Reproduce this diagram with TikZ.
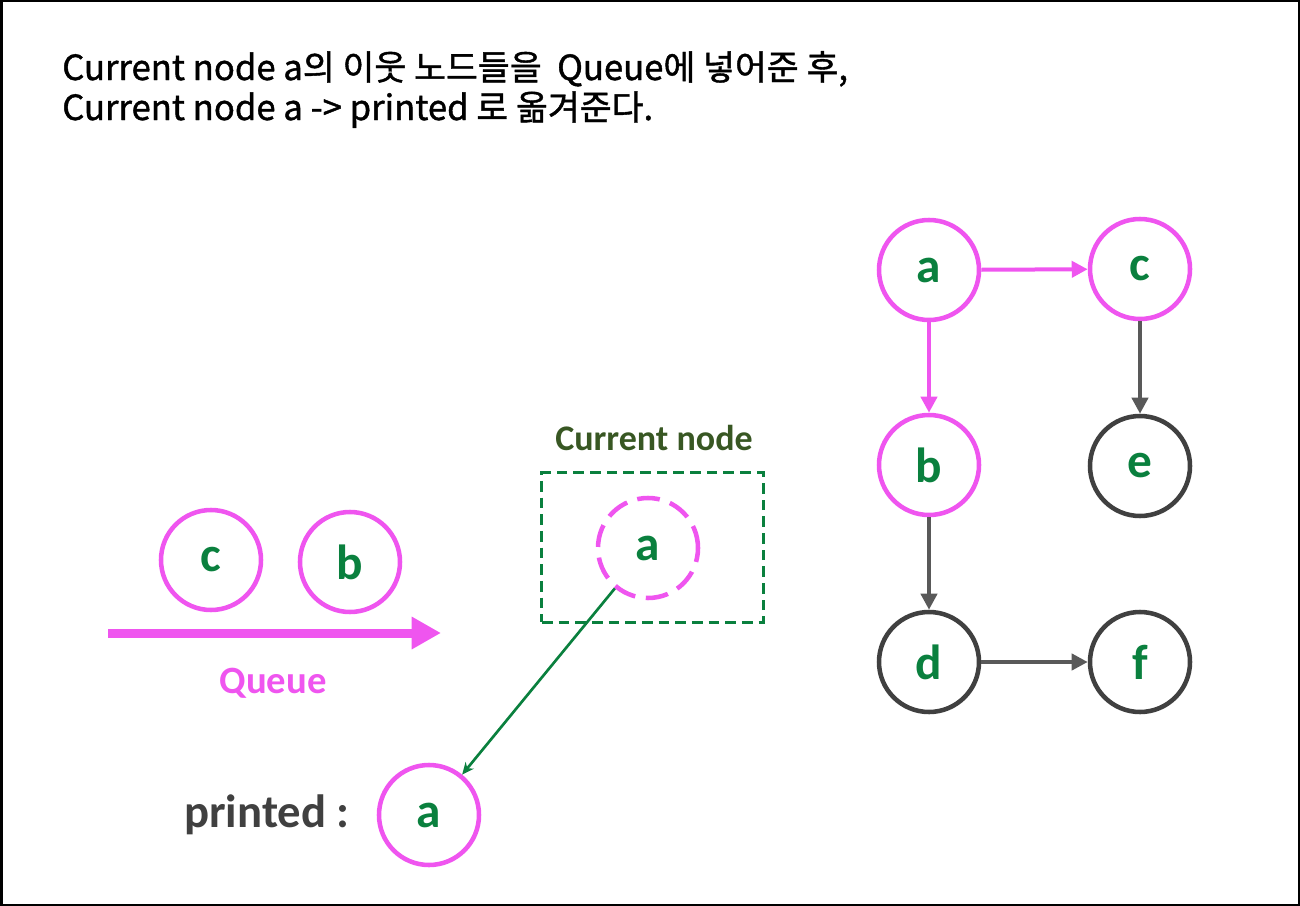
\documentclass[tikz,border=0pt]{standalone}
\usepackage{fontspec}
\setmainfont{Carlito}
\newfontfamily\krfont[FakeBold=1.2]{Noto Sans CJK KR}
\usetikzlibrary{arrows.meta}
\definecolor{pinkc}{RGB}{239,85,239}
\definecolor{lblgreen}{RGB}{10,128,62}
\definecolor{curgreen}{RGB}{56,87,35}
\definecolor{nodegray}{RGB}{64,64,64}
\definecolor{edgegray}{RGB}{89,89,89}
\begin{document}
\begin{tikzpicture}[x=0.75pt,y=-0.75pt,
  vtx/.style={circle, draw=pinkc, line width=3.4pt, minimum size=75pt, inner sep=0pt,
    font=\fontsize{37}{40}\selectfont\bfseries, text=lblgreen},
  grayvtx/.style={vtx, draw=nodegray},
  pinkedge/.style={draw=pinkc, line width=3pt, -{Triangle[length=12pt,width=12pt]}},
  grayedge/.style={draw=edgegray, line width=3pt, -{Triangle[length=12pt,width=12pt]}},
  title/.style={anchor=base west, inner sep=0pt, font=\krfont\fontsize{26}{28}\selectfont, text=black},
  lbl/.style={inner sep=0pt, font=\bfseries}
]
\useasboundingbox (0,0) rectangle (1300,906);
\draw[line width=1.5pt, black] (1.5,1.5) rectangle (1298.5,904.5);

% title
\node[title] (t1) at (62,80) {Current node a의 이웃 노드들을~~Queue에 넣어준 후,};
\node[title] (t2) at (62,120) {Current node a -> printed 로 옮겨준다.};

% graph
\node[vtx] (ga) at (929,270) {a};
\node[vtx] (gc) at (1140,269) {c};
\node[vtx] (gb) at (929,465) {b};
\node[grayvtx] (ge) at (1140,466) {e};
\node[grayvtx] (gd) at (929,662) {d};
\node[grayvtx] (gf) at (1140,662) {f};
\draw[pinkedge] (ga) -- (gc);
\draw[pinkedge] (ga) -- (gb);
\draw[grayedge] (gc) -- (ge);
\draw[grayedge] (gb) -- (gd);
\draw[grayedge] (gd) -- (gf);

% queue
\node[vtx] (qc) at (211,560) {c};
\node[vtx] (qb) at (350,562) {b};
\coordinate (qs) at (108,633);
\coordinate (qe) at (441,633);
\draw[draw=pinkc, line width=6.75pt, -{Triangle[length=22pt,width=23pt]}] (qs) -- (qe);
\node[lbl, text=pinkc, font=\fontsize{29}{32}\selectfont\bfseries] (ql) at (273,683) {Queue};

% current node
\node[lbl, text=curgreen, font=\fontsize{27}{30}\selectfont\bfseries] (cl) at (654,438) {Current node};
\node[draw=lblgreen, line width=2.3pt, dash pattern=on 8pt off 4.5pt, minimum width=166pt, minimum height=112pt, inner sep=0pt] (cbox) at (652.5,547.5) {};
\node[vtx, dash pattern=on 17pt off 8pt] (cur) at (648,548) {a};

% printed
\node[lbl, text=nodegray, font=\fontsize{35}{38}\selectfont\bfseries] (pl) at (267,815) {printed :};
\node[vtx] (pa) at (429,815) {a};
\draw[draw=lblgreen, line width=2pt, -{Stealth[length=9pt,width=8pt]}] (cur) -- (pa);
\end{tikzpicture}
\end{document}
